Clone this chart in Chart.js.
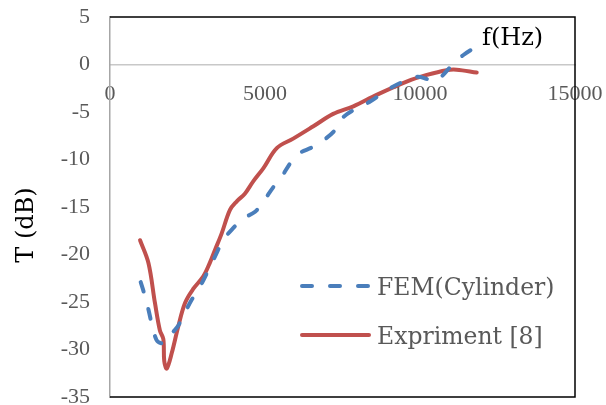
<!DOCTYPE html>
<html>
<head>
<meta charset="utf-8">
<script src="https://cdn.jsdelivr.net/npm/chart.js@4/dist/chart.umd.min.js"></script>
<style>
  html, body { margin: 0; padding: 0; background: #ffffff; }
  canvas { display: block; }
</style>
</head>
<body>
<canvas id="chart" width="606" height="405"></canvas>
<script>
// Transmission loss T (dB) against frequency f (Hz)
const femFreq = [990, 1130, 1240, 1340, 1500, 1660, 1800, 2000, 2200, 2370, 2630, 2900, 3120, 3390, 3650, 3980, 4300, 4680, 4950, 5270, 5540, 5810, 6020, 6560, 6880, 7260, 7470, 7960, 8390, 8930, 9460, 9900, 10200, 10420, 10650, 11080, 11400, 11830, 12000];
const femT = [-22.9, -24.4, -25.8, -27.2, -29.0, -29.35, -29.2, -28.3, -27.5, -26.4, -24.8, -23.4, -22.0, -20.2, -18.5, -17.2, -16.2, -15.5, -14.4, -12.9, -11.8, -10.4, -9.5, -8.65, -8.0, -6.9, -5.7, -4.6, -3.9, -2.7, -1.8, -1.3, -1.5, -1.8, -1.4, 0.1, 1.0, 1.9, 2.2];

const expFreq = [970, 1240, 1450, 1610, 1720, 1750, 1830, 1990, 2200, 2420, 2690, 3010, 3230, 3390, 3600, 3870, 4090, 4350, 4620, 4950, 5380, 5910, 6560, 7200, 7850, 8600, 9570, 10220, 10860, 11180, 11830];
const expT = [-18.5, -20.9, -25.1, -28.0, -28.9, -31.2, -32.0, -30.4, -27.6, -25.1, -23.6, -22.3, -20.8, -19.5, -17.8, -15.3, -14.4, -13.6, -12.3, -10.9, -8.8, -7.8, -6.5, -5.2, -4.4, -3.2, -1.8, -1.1, -0.6, -0.55, -0.85];

const seriesNames = ['FEM(Cylinder)', 'Expriment [8]'];
const xTicks = [0, 5000, 10000, 15000];
const yTicks = [5, 0, -5, -10, -15, -20, -25, -30, -35];
const xAxisLabel = 'f(Hz)';
const yAxisLabel = 'T (dB)';

const toPoints = (xs, ys) => xs.map((x, i) => ({ x: x, y: ys[i] }));

const tickFont = { family: '"Liberation Serif", "Times New Roman", serif', size: 22 };
const textFont = '24px "DejaVu Serif", serif';
const legendFont = '23.5px "DejaVu Serif", serif';

// Frame, axis titles and the in-plot legend
const decorations = {
  id: 'decorations',
  beforeDatasetsDraw(chart) {
    const { ctx, chartArea: a } = chart;
    ctx.save();
    ctx.strokeStyle = '#000000';
    ctx.lineWidth = 1.5;
    ctx.beginPath();
    ctx.moveTo(a.left, a.top);
    ctx.lineTo(a.right, a.top);
    ctx.lineTo(a.right, a.bottom);
    ctx.lineTo(a.left, a.bottom);
    ctx.stroke();
    ctx.restore();
  },
  afterDraw(chart) {
    const { ctx } = chart;
    ctx.save();
    ctx.fillStyle = '#000000';
    ctx.font = textFont;
    ctx.textBaseline = 'alphabetic';
    ctx.textAlign = 'left';
    ctx.fillText(xAxisLabel, 482, 45);

    ctx.save();
    ctx.translate(33, 225);
    ctx.rotate(-Math.PI / 2);
    ctx.textAlign = 'center';
    ctx.fillText(yAxisLabel, 0, 0);
    ctx.restore();

    // legend
    const rows = [286, 335];
    chart.data.datasets.forEach((ds, i) => {
      const y = rows[i];
      ctx.save();
      ctx.strokeStyle = ds.borderColor;
      ctx.lineWidth = ds.borderWidth;
      ctx.lineCap = 'round';
      ctx.setLineDash(ds.borderDash || []);
      ctx.beginPath();
      ctx.moveTo(302, y);
      ctx.lineTo(369, y);
      ctx.stroke();
      ctx.restore();
      ctx.fillStyle = '#595959';
      ctx.font = legendFont;
      ctx.textAlign = 'left';
      ctx.textBaseline = 'alphabetic';
      ctx.fillText(ds.label, 377, y + 9);
    });
    ctx.restore();
  }
};

new Chart(document.getElementById('chart'), {
  type: 'line',
  data: {
    datasets: [
      {
        label: seriesNames[0],
        data: toPoints(femFreq, femT),
        borderColor: '#4A7EBB',
        borderWidth: 4,
        borderDash: [10, 18],
        borderCapStyle: 'round',
        pointRadius: 0,
        tension: 0.35,
        fill: false
      },
      {
        label: seriesNames[1],
        data: toPoints(expFreq, expT),
        borderColor: '#C0504D',
        borderWidth: 4,
        borderCapStyle: 'round',
        borderJoinStyle: 'round',
        pointRadius: 0,
        tension: 0.35,
        fill: false
      }
    ]
  },
  options: {
    responsive: false,
    animation: false,
    devicePixelRatio: 1,
    layout: { padding: { left: 0, top: 17, right: 31, bottom: 8 } },
    plugins: { legend: { display: false }, tooltip: { enabled: false } },
    scales: {
      x: {
        type: 'linear',
        min: 0,
        max: 15000,
        position: { y: 0 },
        afterBuildTicks: s => { s.ticks = xTicks.map(v => ({ value: v })); },
        afterFit: s => { s.paddingLeft = 0; s.paddingRight = 0; },
        ticks: { font: tickFont, color: '#595959', padding: 17, maxRotation: 0, autoSkip: false, callback: v => String(v) },
        grid: { display: false, drawTicks: false },
        border: { display: true, color: '#C8C8C8', width: 1.5 }
      },
      y: {
        type: 'linear',
        min: -35,
        max: 5,
        position: 'left',
        afterBuildTicks: s => { s.ticks = yTicks.map(v => ({ value: v })); },
        afterFit: s => { s.width = 110; s.paddingTop = 0; s.paddingBottom = 0; },
        ticks: { font: tickFont, color: '#595959', padding: 20, autoSkip: false, callback: v => String(v) },
        grid: { display: false, drawTicks: false },
        border: { display: true, color: '#A6A6A6', width: 1.5 }
      }
    }
  },
  plugins: [decorations]
});
</script>
</body>
</html>
